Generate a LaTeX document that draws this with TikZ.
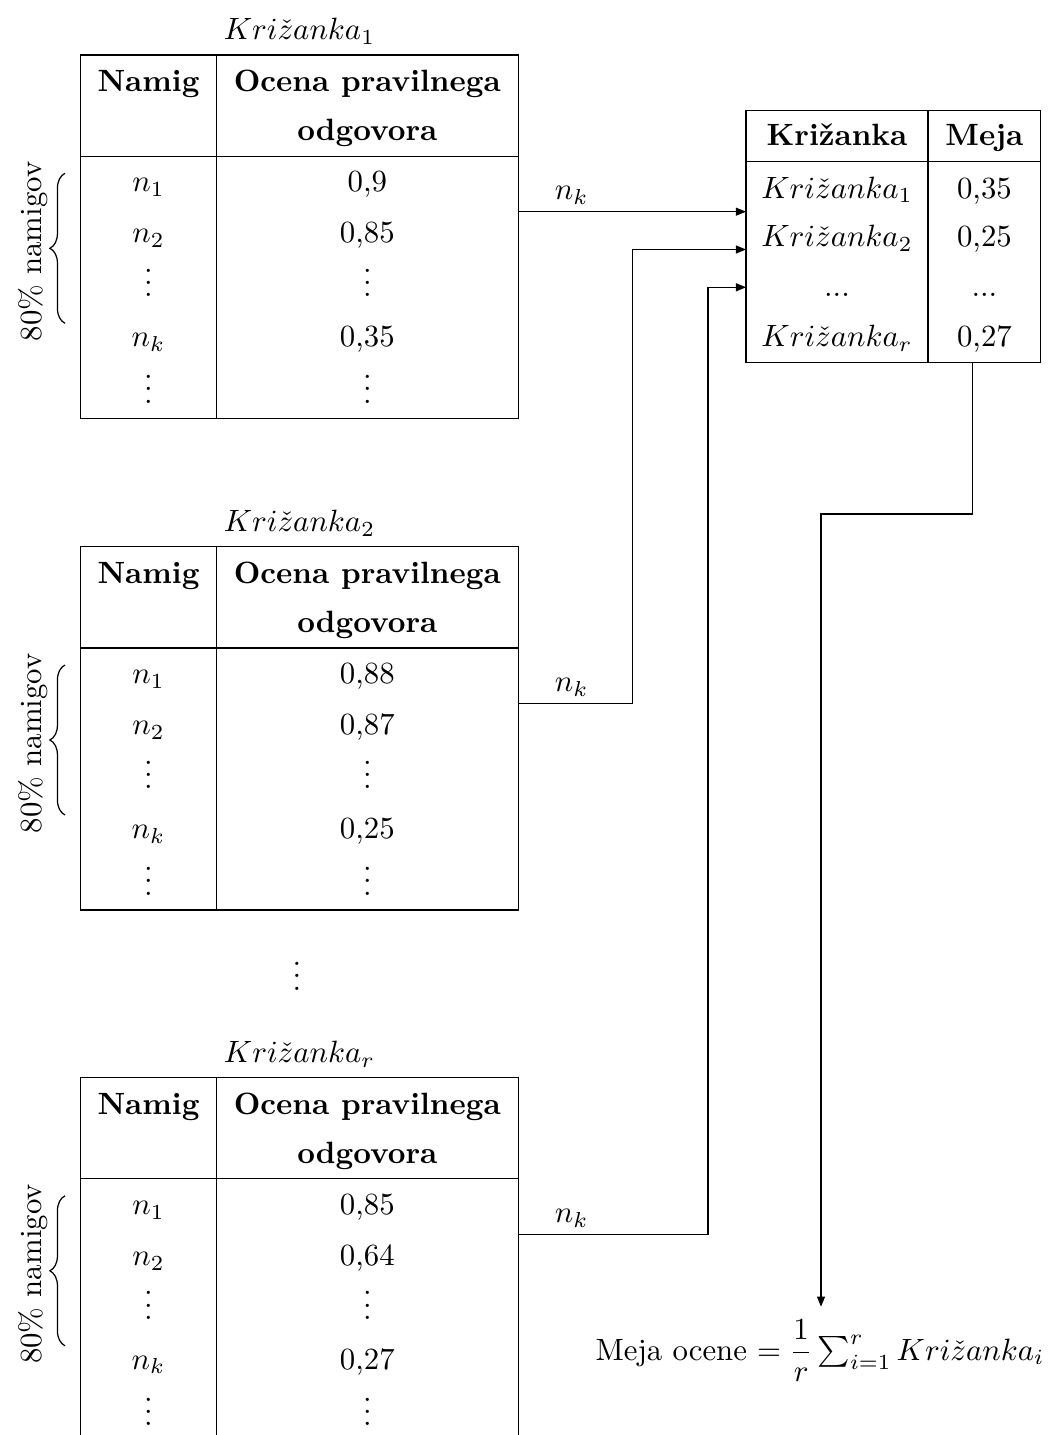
\documentclass[tikz,border=0pt]{standalone}
\usepackage{amsmath}
\usetikzlibrary{arrows.meta,decorations.pathreplacing}
\tikzset{
  txt/.style={inner sep=0pt, anchor=base},
  arr/.style={-{Triangle[length=3.3pt,width=2.6pt]}},
  bracepath/.style={decorate, decoration={brace, amplitude=4.9pt}}
}
\newcommand\crtable[6]{%
\begin{scope}[shift={(0,#2)}]
  \draw (80.7,0) rectangle (518.3,363.3);
  \draw (80.7,101.3) -- (518.3,101.3);
  \draw (216.3,0) -- (216.3,363.3);
  \node[txt] (#1-title) at (299.5,-15) {$Kri\check{z}anka_{#3}$};
  \node[txt] (#1-h1) at (148.5,36.7) {\textbf{Namig}};
  \node[txt] (#1-h2) at (367.3,36.7) {\textbf{Ocena pravilnega}};
  \node[txt] (#1-h3) at (367.3,85.7) {\textbf{odgovora}};
  \node[txt] (#1-a1) at (148.5,137) {$n_1$};
  \node[txt] (#1-b1) at (367.3,137) {#4};
  \node[txt] (#1-a2) at (148.5,188) {$n_2$};
  \node[txt] (#1-b2) at (367.3,188) {#5};
  \node[txt] (#1-a3) at (148.5,242) {$\vdots$};
  \node[txt] (#1-b3) at (367.3,242) {$\vdots$};
  \node[txt] (#1-a4) at (148.5,291.7) {$n_k$};
  \node[txt] (#1-b4) at (367.3,291.7) {#6};
  \node[txt] (#1-a5) at (148.5,348.3) {$\vdots$};
  \node[txt] (#1-b5) at (367.3,348.3) {$\vdots$};
  \coordinate (#1-bl) at (65,268.3);
  \coordinate (#1-bu) at (65,118.3);
  \draw[bracepath] (#1-bl) -- (#1-bu);
  \node[txt, rotate=90] (#1-pct) at (41.4,196.5) {80\% namigov};
  \coordinate (#1-out) at (518.3,156.7);
  \node[txt] (#1-nk) at (571.8,145) {$n_k$};
\end{scope}}
\begin{document}
\begin{tikzpicture}[x=0.3247pt, y=-0.3247pt]
  \useasboundingbox (0,0) rectangle (1049,1435);
  \clip (0,0) rectangle (1049,1435);

  \crtable{t1}{55}{1}{0,9}{0,85}{0,35}
  \crtable{t2}{546.7}{2}{0,88}{0,87}{0,25}
  \crtable{t3}{1077.5}{r}{0,85}{0,64}{0,27}

  \node[txt] (gapdots) at (297,990) {$\vdots$};

  % summary table
  \draw (746,110.7) rectangle (1040.7,362.7);
  \draw (746,161.3) -- (1040.7,161.3);
  \draw (928,110.7) -- (928,362.7);
  \node[txt] (sh1) at (837,146) {\textbf{Križanka}};
  \node[txt] (sh2) at (984.4,146) {\textbf{Meja}};
  \node[txt] (sa1) at (837,198.3) {$Kri\check{z}anka_1$};
  \node[txt] (sb1) at (984.4,198.3) {0,35};
  \node[txt] (sa2) at (837,246.7) {$Kri\check{z}anka_2$};
  \node[txt] (sb2) at (984.4,246.7) {0,25};
  \node[txt] (sa3) at (837,297) {...};
  \node[txt] (sb3) at (984.4,297) {...};
  \node[txt] (sa4) at (837,346.7) {$Kri\check{z}anka_r$};
  \node[txt] (sb4) at (984.4,346.7) {0,27};

  \coordinate (in1) at (746,211.7);
  \coordinate (in2) at (746,249.5);
  \coordinate (in3) at (746,287.3);
  \coordinate (bend2) at (632.3,249.5);
  \coordinate (bend3) at (708,287.3);

  \draw[arr] (t1-out) -- (in1);
  \draw[arr] (t2-out) -| (bend2) -- (in2);
  \draw[arr] (t3-out) -| (bend3) -- (in3);

  % result
  \node[txt] (formula) at (820,1360) {Meja ocene $= \dfrac{1}{r}\sum_{i=1}^{r} Kri\check{z}anka_i$};
  \coordinate (mejaout) at (972.3,362.7);
  \coordinate (mid1) at (972.3,514);
  \coordinate (mid2) at (821,514);
  \coordinate (fin) at (821,1306.7);
  \draw[arr] (mejaout) -- (mid1) -- (mid2) -- (fin);
\end{tikzpicture}
\end{document}
